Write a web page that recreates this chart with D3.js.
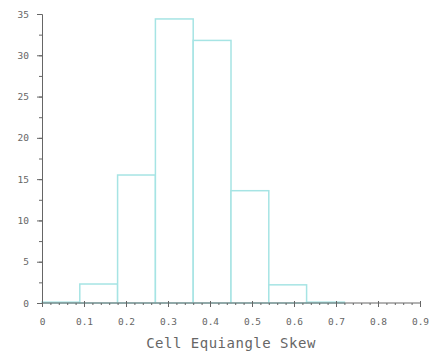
<!DOCTYPE html>
<html><head><meta charset="utf-8">
<script src="https://cdn.jsdelivr.net/npm/d3@7"></script>
<style>body{margin:0;background:#fff}svg{display:block}</style>
</head><body>
<svg id="c" width="433" height="359"></svg>
<script>
const binStarts = [0, 0.09, 0.18, 0.27, 0.36, 0.45, 0.54, 0.63, 0.72, 0.81];
const binWidth = 0.09;
const counts = [0.1, 2.3, 15.5, 34.4, 31.8, 13.6, 2.2, 0.1, 0, 0];
const xTicks = [0, 0.1, 0.2, 0.3, 0.4, 0.5, 0.6, 0.7, 0.8, 0.9];
const yTicks = [0, 5, 10, 15, 20, 25, 30, 35];
const xTitle = "Cell Equiangle Skew";

const svg = d3.select("#c");
const x = d3.scaleLinear().domain([0, 0.9]).range([42, 420]);
const y = d3.scaleLinear().domain([0, 35]).range([303, 14]);
const axisColor = "#666";
const font = "'DejaVu Sans Mono', monospace";

// bars
svg.append("g").selectAll("rect").data(binStarts).join("rect")
  .attr("x", (d) => x(d))
  .attr("width", (d) => x(d + binWidth) - x(d))
  .attr("y", (d, i) => y(counts[i]))
  .attr("height", (d, i) => y(0) - y(counts[i]))
  .attr("fill", "#ffffff")
  .attr("stroke", "#a6e4e4")
  .attr("stroke-width", 1.5);

// y axis
const yMinor = d3.range(0, 35.01, 2.5);
const gy = svg.append("g").attr("transform", `translate(${x(0)},0)`)
  .call(d3.axisLeft(y).tickValues(yMinor).tickSize(3).tickFormat(""));
gy.selectAll("path,line").attr("stroke", axisColor);
const gy2 = svg.append("g").attr("transform", `translate(${x(0)},0)`)
  .call(d3.axisLeft(y).tickValues(yTicks).tickSize(5).tickPadding(8).tickFormat(d3.format("d")));
gy2.select("path").remove();
gy2.selectAll("line").attr("stroke", axisColor);
gy2.selectAll("text").attr("fill", "#666").style("font-family", font).style("font-size", "9.5px");

// x axis
const xMinor = d3.range(0, 0.9001, 0.02);
const gx = svg.append("g").attr("transform", `translate(0,${y(0)})`)
  .call(d3.axisBottom(x).tickValues(xMinor).tickSize(2).tickSizeOuter(0).tickFormat(""));
gx.selectAll("path,line").attr("stroke", axisColor);
gx.select("path").attr("d", `M${x(0)},0H${x(0.9)}`);
const gx2 = svg.append("g").attr("transform", `translate(0,${y(0)})`)
  .call(d3.axisBottom(x).tickValues(xTicks).tickSize(4).tickPadding(11)
    .tickFormat((d) => d === 0 ? "0" : d3.format(".1f")(d)));
gx2.select("path").remove();
gx2.selectAll("line").attr("stroke", axisColor).attr("y1", -2);
gx2.selectAll("text").attr("fill", "#666").style("font-family", font).style("font-size", "9.5px");

svg.append("text")
  .attr("x", (x(0) + x(0.9)) / 2)
  .attr("y", 348)
  .attr("text-anchor", "middle")
  .attr("fill", "#666")
  .style("font-family", font)
  .style("font-size", "14px")
  .style("letter-spacing", "0.5px")
  .text(xTitle);
</script>
</body></html>
